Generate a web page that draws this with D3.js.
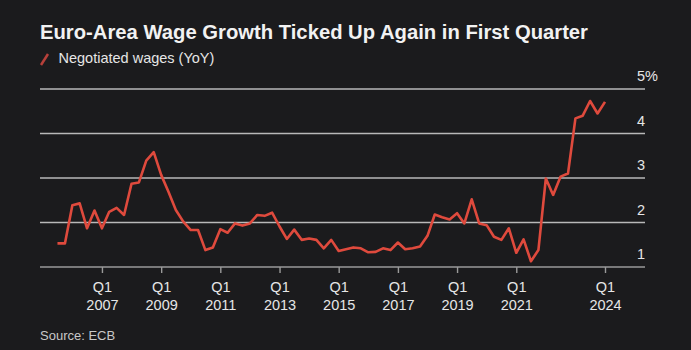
<!DOCTYPE html>
<html>
<head>
<meta charset="utf-8">
<script src="https://cdn.jsdelivr.net/npm/d3@7"></script>
<style>
  html, body { margin: 0; padding: 0; background: #1b1b1d; }
  svg { display: block; font-family: "Liberation Sans", Arial, sans-serif; }
</style>
</head>
<body>
<div id="chart"></div>
<script>
// Quarters (year + quarter) and negotiated wage growth, % YoY
var quarters = [
  "2005Q3","2005Q4",
  "2006Q1","2006Q2","2006Q3","2006Q4",
  "2007Q1","2007Q2","2007Q3","2007Q4",
  "2008Q1","2008Q2","2008Q3","2008Q4",
  "2009Q1","2009Q2","2009Q3","2009Q4",
  "2010Q1","2010Q2","2010Q3","2010Q4",
  "2011Q1","2011Q2","2011Q3","2011Q4",
  "2012Q1","2012Q2","2012Q3","2012Q4",
  "2013Q1","2013Q2","2013Q3","2013Q4",
  "2014Q1","2014Q2","2014Q3","2014Q4",
  "2015Q1","2015Q2","2015Q3","2015Q4",
  "2016Q1","2016Q2","2016Q3","2016Q4",
  "2017Q1","2017Q2","2017Q3","2017Q4",
  "2018Q1","2018Q2","2018Q3","2018Q4",
  "2019Q1","2019Q2","2019Q3","2019Q4",
  "2020Q1","2020Q2","2020Q3","2020Q4",
  "2021Q1","2021Q2","2021Q3","2021Q4",
  "2022Q1","2022Q2","2022Q3","2022Q4",
  "2023Q1","2023Q2","2023Q3","2023Q4",
  "2024Q1"
];
var wages = [
  1.53, 1.53,
  2.39, 2.43, 1.87, 2.27,
  1.87, 2.24, 2.33, 2.17,
  2.87, 2.90, 3.39, 3.58,
  3.07, 2.69, 2.28, 2.02,
  1.83, 1.83, 1.38, 1.44,
  1.85, 1.77, 1.98, 1.93,
  1.98, 2.17, 2.15, 2.22,
  1.91, 1.63, 1.84, 1.61,
  1.64, 1.61, 1.42, 1.61,
  1.36, 1.40, 1.44, 1.42,
  1.33, 1.34, 1.42, 1.38,
  1.55, 1.40, 1.42, 1.46,
  1.70, 2.18, 2.12, 2.07,
  2.21, 1.98, 2.52, 1.98,
  1.94, 1.68, 1.61, 1.87,
  1.32, 1.62, 1.13, 1.38,
  2.99, 2.62, 3.03, 3.10,
  4.34, 4.40, 4.73, 4.45,
  4.71
];
var tickYears = [2007, 2009, 2011, 2013, 2015, 2017, 2019, 2021, 2024];
var yTicks = [1, 2, 3, 4, 5];

function init() {
  var w = 691, h = 350;
  var left = 40, right = 645;

  var parseQ = function(s) {
    return new Date(+s.slice(0, 4), (+s.slice(5) - 1) * 3, 1);
  };
  var data = quarters.map(function(q, i) {
    return { date: parseQ(q), value: wages[i] };
  });

  var svg = d3.select("#chart").append("svg")
      .attr("width", w)
      .attr("height", h);

  svg.append("rect").attr("width", w).attr("height", h).attr("fill", "#1b1b1d");

  var x = d3.scaleTime()
      .domain([new Date(2005, 0, 1), new Date(2024, 0, 1)])
      .range([42.8, 605]);
  var y = d3.scaleLinear()
      .domain([1, 5])
      .range([267, 89]);

  // title + legend
  svg.append("text")
      .attr("x", left).attr("y", 39)
      .attr("fill", "#f2f2f2")
      .attr("font-size", 20).attr("font-weight", "bold")
      .attr("textLength", 548).attr("lengthAdjust", "spacingAndGlyphs")
      .text("Euro-Area Wage Growth Ticked Up Again in First Quarter");

  svg.append("line")
      .attr("x1", 41).attr("y1", 65).attr("x2", 48).attr("y2", 54)
      .attr("stroke", "#b7403a").attr("stroke-width", 2.5);
  svg.append("text")
      .attr("x", 58.5).attr("y", 63)
      .attr("fill", "#e6e6e6").attr("font-size", 14.5)
      .text("Negotiated wages (YoY)");

  // gridlines + y labels
  var grid = svg.append("g");
  grid.selectAll("line").data(yTicks).enter().append("line")
      .attr("x1", left).attr("x2", right)
      .attr("y1", function(d) { return y(d); })
      .attr("y2", function(d) { return y(d); })
      .attr("stroke", function(d) { return d === 1 ? "#9a9a9a" : "#b9b9b9"; })
      .attr("stroke-width", 1.6);

  var ylab = grid.selectAll("text").data(yTicks).enter().append("text")
      .attr("x", right)
      .attr("y", function(d) { return y(d) - 8; })
      .attr("fill", "#e6e6e6").attr("font-size", 14.5);
  ylab.append("tspan")
      .attr("text-anchor", "end")
      .text(function(d) { return d; });
  ylab.filter(function(d) { return d === 5; })
      .append("tspan").text("%");
  // "%" hangs to the right of the digit
  ylab.each(function(d) {
    var t = d3.select(this);
    t.selectAll("tspan").attr("text-anchor", null);
    t.attr("text-anchor", null);
    var num = t.select("tspan").node();
    var wNum = num.getComputedTextLength();
    t.attr("x", right - wNum);
  });

  // x axis ticks
  var xAxis = d3.axisBottom(x)
      .tickValues(tickYears.map(function(yr) { return new Date(yr, 0, 1); }))
      .tickSize(6)
      .tickFormat("");
  var ax = svg.append("g")
      .attr("transform", "translate(0,267)")
      .call(xAxis);
  ax.select(".domain").remove();
  ax.selectAll(".tick line").attr("stroke", "#9a9a9a").attr("stroke-width", 1.4);
  var lbl = ax.selectAll(".tick text")
      .attr("fill", "#e6e6e6")
      .attr("font-size", 14.5)
      .attr("font-family", "Liberation Sans, Arial, sans-serif")
      .attr("y", 0).attr("dy", null);
  lbl.append("tspan").attr("x", 0).attr("y", 25).text("Q1");
  lbl.append("tspan").attr("x", 0).attr("y", 43)
      .text(function(d) { return d.getFullYear(); });

  // the line
  var line = d3.line()
      .x(function(d) { return x(d.date); })
      .y(function(d) { return y(d.value); });
  svg.append("path")
      .datum(data)
      .attr("fill", "none")
      .attr("stroke", "#df4a3d")
      .attr("stroke-width", 2.6)
      .attr("stroke-linejoin", "round")
      .attr("d", line);

  // source
  svg.append("text")
      .attr("x", left).attr("y", 340)
      .attr("fill", "#c8c8c8").attr("font-size", 13)
      .text("Source: ECB");
}

window.onload = init;
</script>
</body>
</html>
